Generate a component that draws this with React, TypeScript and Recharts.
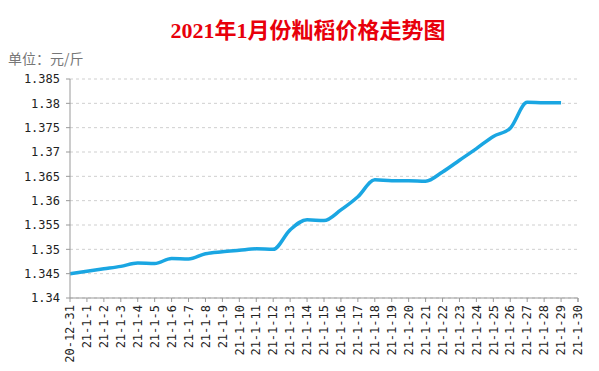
import React from 'react';
import { LineChart, Line, XAxis, YAxis, CartesianGrid } from 'recharts';

const dates = [
  '20-12-31', '21-1-1', '21-1-2', '21-1-3', '21-1-4', '21-1-5', '21-1-6', '21-1-7',
  '21-1-8', '21-1-9', '21-1-10', '21-1-11', '21-1-12', '21-1-13', '21-1-14', '21-1-15',
  '21-1-16', '21-1-17', '21-1-18', '21-1-19', '21-1-20', '21-1-21', '21-1-22', '21-1-23',
  '21-1-24', '21-1-25', '21-1-26', '21-1-27', '21-1-28', '21-1-29', '21-1-30',
];

const prices: (number | null)[] = [
  1.345, 1.3455, 1.346, 1.3465, 1.3472, 1.3471, 1.3481, 1.348,
  1.3491, 1.3495, 1.3498, 1.3501, 1.35, 1.354, 1.3561, 1.3559,
  1.3581, 1.3608, 1.3643, 1.3641, 1.3641, 1.364, 1.3659, 1.3683,
  1.3707, 1.3732, 1.3749, 1.3802, 1.3801, 1.3801, null,
];

const yTicks = [1.34, 1.345, 1.35, 1.355, 1.36, 1.365, 1.37, 1.375, 1.38, 1.385];

const data = dates.map((d, i) => ({ date: d, price: prices[i] }));

const MONO = '"DejaVu Sans Mono", "Liberation Mono", monospace';

// ticks sit between the categories, so draw them by hand
const DateTick = (props: any) => {
  const { x, y, payload, index } = props;
  const half = payload?.offset ?? 8.2;
  return (
    <g>
      <line x1={x - half} y1={y - 7} x2={x - half} y2={y - 3} stroke="#999" />
      {index === dates.length - 1 && (
        <line x1={x + half} y1={y - 7} x2={x + half} y2={y - 3} stroke="#999" />
      )}
      <text
        x={x}
        y={y}
        transform={`rotate(-90, ${x}, ${y})`}
        textAnchor="end"
        dy="0.35em"
        fontSize={12}
        fontFamily={MONO}
        fill="#222"
      >
        {payload.value}
      </text>
    </g>
  );
};

export default function App() {
  return (
    <div style={{ position: 'absolute', left: 0, top: 0, width: 599, height: 371, background: '#fff' }}>
      <div
        style={{
          position: 'absolute', left: 0, top: 12, width: 616, textAlign: 'center',
          color: '#e8000b', fontSize: 22, fontWeight: 'bold',
          fontFamily: '"Liberation Serif", "Noto Sans CJK SC", serif',
        }}
      >
        2021年1月份籼稻价格走势图
      </div>
      <div
        style={{
          position: 'absolute', left: 8, top: 48, color: '#777', fontSize: 14,
          fontFamily: '"Noto Sans CJK SC", sans-serif',
        }}
      >
        单位：元/斤
      </div>
      <LineChart width={599} height={371} data={data} margin={{ top: 79, right: 21, left: 0, bottom: 0 }}>
        <CartesianGrid vertical={false} stroke="#cfcfcf" strokeDasharray="3 3" />
        <XAxis
          dataKey="date"
          interval={0}
          height={73}
          axisLine={{ stroke: '#999' }}
          tickLine={false}
          tick={<DateTick />}
          tickSize={4}
          tickMargin={3}
        />
        <YAxis
          width={70}
          domain={[1.34, 1.385]}
          ticks={yTicks}
          allowDataOverflow
          axisLine={{ stroke: '#999' }}
          tickLine={{ stroke: '#999' }}
          tickSize={4}
          tickMargin={6}
          tick={{ fontSize: 12, fontFamily: MONO, fill: '#222' }}
          tickFormatter={(v: number) => String(v)}
        />
        <Line
          type="monotone"
          dataKey="price"
          stroke="#1aa6e2"
          strokeWidth={3.5}
          dot={false}
          isAnimationActive={false}
        />
      </LineChart>
    </div>
  );
}
